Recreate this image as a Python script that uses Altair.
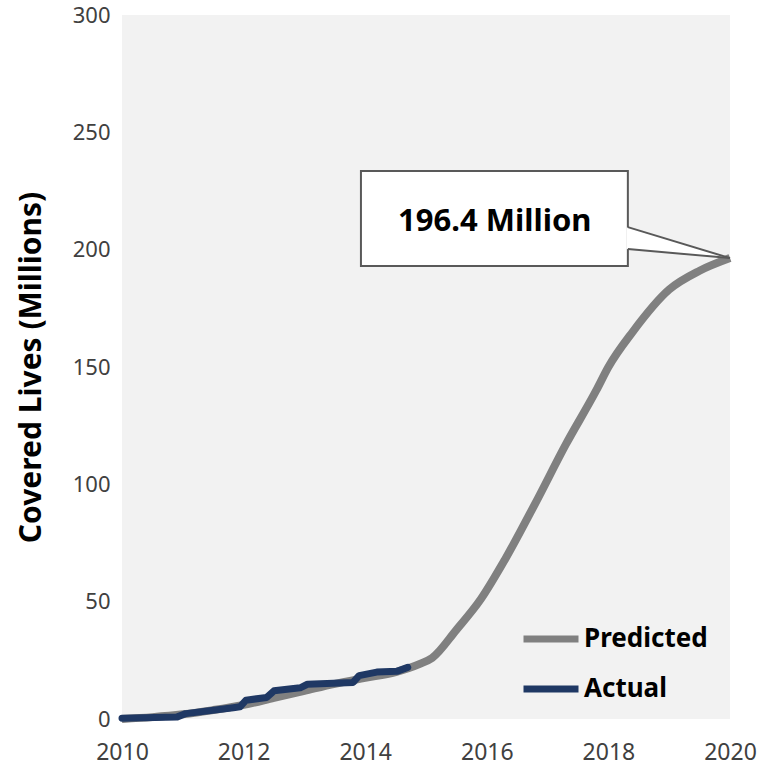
import altair as alt
import pandas as pd

# ---- data ----
pred_year = [2010.0, 2010.5, 2011.0, 2011.5, 2012.0, 2012.5, 2013.0, 2013.5, 2014.0,
             2014.5, 2014.9, 2015.1, 2015.5, 2015.9, 2016.3, 2016.8, 2017.3, 2017.8,
             2018.0, 2018.4, 2019.0, 2019.5, 2020.0]
pred_value = [0.0, 0.8, 2.0, 3.8, 6.0, 9.0, 12.0, 15.0, 17.5,
              20.0, 23.5, 26.0, 38.0, 51.0, 68.0, 92.0, 117.0, 140.0,
              150.0, 165.0, 183.0, 191.0, 196.4]

act_year = [2010.00, 2010.90, 2011.05, 2011.83, 2011.94, 2012.04, 2012.38, 2012.50,
            2012.93, 2013.05, 2013.80, 2013.90, 2014.19, 2014.52, 2014.70]
act_value = [0.3, 0.8, 2.3, 4.8, 5.2, 8.0, 9.2, 12.0,
             13.3, 14.8, 15.6, 18.5, 20.0, 20.3, 22.0]

series_names = ["Predicted", "Actual"]
series_colors = ["#808080", "#1f3864"]

x_ticks = [2010, 2012, 2014, 2016, 2018, 2020]
y_ticks = [0, 50, 100, 150, 200, 250, 300]

callout_text = "196.4 Million"
# callout geometry in data units (year, millions)
box_x = [2013.93, 2018.32]
box_y = [193.0, 233.5]
tip = (2020.0, 196.4)
wedge_base_x = 2018.30
wedge_base_y = [209.6, 200.3]
label_pos = (2016.13, 211.8)

FONT = "Noto Sans"

pred_df = pd.DataFrame({"year": pred_year, "value": pred_value, "series": "Predicted"})
act_df = pd.DataFrame({"year": act_year, "value": act_value, "series": "Actual"})

xs = alt.Scale(domain=[2010, 2020], nice=False, zero=False)
ys = alt.Scale(domain=[0, 300], nice=False)
cs = alt.Scale(domain=series_names, range=series_colors)

x_axis = alt.Axis(values=x_ticks, format="d", title=None, grid=False, domain=False,
                  ticks=False, labelFontSize=23, labelPadding=22, labelColor="#404040",
                  labelFont=FONT, labelFlush=False, labelOverlap=False)
y_axis = alt.Axis(values=y_ticks, title="Covered Lives (Millions)", grid=False, domain=False,
                  ticks=False, labelFontSize=22, labelPadding=12, labelColor="#404040",
                  labelFont=FONT, labelFlush=False, labelOverlap=False,
                  titleFont=FONT, titleFontSize=30, titleFontWeight="bold",
                  titleColor="black", titlePadding=26)

legend = alt.Legend(title=None, orient="none", legendX=398, legendY=593,
                    symbolType="stroke", symbolSize=3025, symbolStrokeWidth=7,
                    labelFontSize=26, labelFontWeight="bold", labelFont=FONT,
                    labelColor="black", labelOffset=2, rowPadding=5, padding=0)

pred_line = alt.Chart(pred_df).mark_line(strokeWidth=8, strokeCap="butt", strokeJoin="round",
                                         interpolate="monotone").encode(
    x=alt.X("year:Q", scale=xs, axis=x_axis),
    y=alt.Y("value:Q", scale=ys, axis=y_axis),
    color=alt.Color("series:N", scale=cs, legend=legend),
)
act_line = alt.Chart(act_df).mark_line(strokeWidth=7, strokeCap="round", strokeJoin="round").encode(
    x=alt.X("year:Q", scale=xs),
    y=alt.Y("value:Q", scale=ys),
    color=alt.Color("series:N", scale=cs, legend=legend),
)

box_df = pd.DataFrame({"x": [box_x[0]], "x2": [box_x[1]], "y": [box_y[0]], "y2": [box_y[1]]})
box = alt.Chart(box_df).mark_rect(fill="white", stroke="#595959", strokeWidth=2).encode(
    x=alt.X("x:Q", scale=xs), x2="x2:Q", y=alt.Y("y:Q", scale=ys), y2="y2:Q")

wedge_df = pd.DataFrame({"x": [wedge_base_x, tip[0]],
                         "y": [wedge_base_y[0], tip[1]],
                         "y2": [wedge_base_y[1], tip[1]]})
wedge = alt.Chart(wedge_df).mark_area(fill="white").encode(
    x=alt.X("x:Q", scale=xs), y=alt.Y("y:Q", scale=ys), y2="y2:Q")

edge_df = pd.DataFrame({"x": [box_x[1], box_x[1]], "y": wedge_base_y,
                        "x2": [tip[0], tip[0]], "y2": [tip[1], tip[1]]})
edges = alt.Chart(edge_df).mark_rule(stroke="#595959", strokeWidth=2).encode(
    x=alt.X("x:Q", scale=xs), x2="x2:Q", y=alt.Y("y:Q", scale=ys), y2="y2:Q")

label_df = pd.DataFrame({"x": [label_pos[0]], "y": [label_pos[1]], "t": [callout_text]})
label = alt.Chart(label_df).mark_text(font=FONT, fontSize=31, fontWeight="bold", color="black",
                                      align="center", baseline="middle").encode(
    x=alt.X("x:Q", scale=xs), y=alt.Y("y:Q", scale=ys), text="t:N")

chart = alt.layer(pred_line, act_line, box, wedge, edges, label).properties(
    width=608, height=704,
    autosize=alt.AutoSizeParams(type="none"),
    padding={"left": 122, "top": 15, "right": 27, "bottom": 54},
    background="white",
).configure_view(fill="#f2f2f2", strokeWidth=0)

chart.save("out.html", embed_options={"renderer": "svg", "actions": False})
